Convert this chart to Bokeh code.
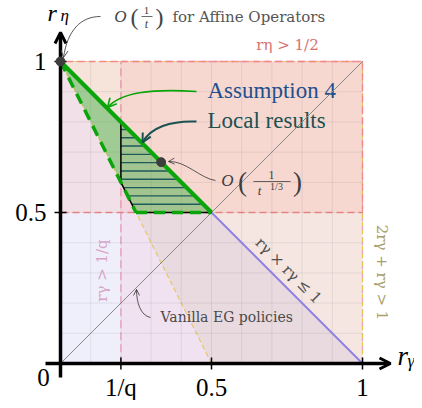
import numpy as np
from bokeh.plotting import figure
from bokeh.models import Arrow, OpenHead
from bokeh.embed import file_html
from bokeh.resources import INLINE
from bokeh.core.properties import value

# ---------------- data ----------------
q = 5
square = [(0.0, 0.0), (1.0, 0.0), (1.0, 1.0), (0.0, 1.0)]
x_ticks = [1 / q, 0.5, 1.0]
x_tick_labels = ["1/q", "0.5", "1"]
y_ticks = [0.5, 1.0]
y_tick_labels = ["0.5", "1"]
grid_values = [0.1, 0.2, 0.3, 0.4, 0.5, 0.6, 0.7, 0.8, 0.9]

# half-planes  a*r_gamma + b*r_eta >= c
eta_half = (0.0, 1.0, 0.5)      # r_eta > 1/2
gamma_q = (1.0, 0.0, 1 / q)     # r_gamma > 1/q
two_sum = (2.0, 1.0, 1.0)       # 2 r_gamma + r_eta > 1
sum_le = (-1.0, -1.0, -1.0)     # r_eta + r_gamma <= 1

vanilla_x = [0.0, 1.0]          # r_eta = r_gamma
vanilla_y = [0.0, 1.0]
rate_x = [0.0, 1 / 3]           # O(1/t) and O(1/t^{1/3})
rate_y = [1.0, 2 / 3]

# ---------------- helpers ----------------
EPS = 1e-9


def clip(poly, con):
    a, b, c = con
    out = []
    n = len(poly)
    for i in range(n):
        P, Q = poly[i], poly[(i + 1) % n]
        fp = a * P[0] + b * P[1] - c
        fq = a * Q[0] + b * Q[1] - c
        if fp >= -EPS:
            out.append(P)
        if (fp >= -EPS) != (fq >= -EPS):
            t = fp / (fp - fq)
            out.append((P[0] + t * (Q[0] - P[0]), P[1] + t * (Q[1] - P[1])))
    res = []
    for pt in out:
        if not res or abs(pt[0] - res[-1][0]) > EPS or abs(pt[1] - res[-1][1]) > EPS:
            res.append(pt)
    if len(res) > 1 and abs(res[0][0] - res[-1][0]) < EPS and abs(res[0][1] - res[-1][1]) < EPS:
        res.pop()
    return res


def region(*cons):
    poly = list(square)
    for c in cons:
        poly = clip(poly, c)
    return poly


def edges_on(poly, con):
    a, b, c = con
    segs = []
    n = len(poly)
    for i in range(n):
        P, Q = poly[i], poly[(i + 1) % n]
        if abs(a * P[0] + b * P[1] - c) < 1e-7 and abs(a * Q[0] + b * Q[1] - c) < 1e-7:
            segs.append(([P[0], Q[0]], [P[1], Q[1]]))
    return segs


def xs_ys(poly):
    return [p[0] for p in poly], [p[1] for p in poly]


def hline_span(poly, y):
    xs = []
    n = len(poly)
    for i in range(n):
        P, Q = poly[i], poly[(i + 1) % n]
        if (P[1] - y) * (Q[1] - y) <= 0 and abs(P[1] - Q[1]) > EPS:
            t = (y - P[1]) / (Q[1] - P[1])
            xs.append(P[0] + t * (Q[0] - P[0]))
    return (min(xs), max(xs)) if xs else None


# picture-pixel placement for annotations
S, OX, OY = 302.0, 60.0, 363.0


def at(X, Y):
    return (X - OX) / S, (OY - Y) / S


W, H = 414, 400
p = figure(width=W, height=H,
           x_range=((0 - OX) / S, (W - OX) / S),
           y_range=((OY - H) / S, OY / S),
           output_backend="svg", toolbar_location=None,
           x_axis_type=None, y_axis_type=None, min_border=0)
p.outline_line_color = None
p.background_fill_color = "white"
p.border_fill_color = "white"

SERIF = value("Liberation Serif")
DSERIF = value("DejaVu Serif")


def txt(X, Y, s, size, color, font=SERIF, align="center", angle=0.0, style="normal"):
    x, y = at(X, Y)
    p.text(x=[x], y=[y], text=[s], text_font=font, text_font_size=f"{size}px",
           text_color=color, text_align=align, text_baseline="middle",
           angle=angle, text_font_style=style)


# ---------------- shaded constraint regions ----------------
B = region(sum_le)
bx, by = xs_ys(B)
p.patch(bx, by, fill_color="#6464e6", fill_alpha=0.10, line_color=None)

P_ = region(gamma_q)
px_, py_ = xs_ys(P_)
p.patch(px_, py_, fill_color="#ff99b3", fill_alpha=0.15,
        line_color="#f09cc6", line_width=1.3, line_dash="8 4")

Y_ = region(two_sum)
yx, yy = xs_ys(Y_)
p.patch(yx, yy, fill_color="#beae80", fill_alpha=0.15,
        line_color="#e2c75e", line_width=1.1, line_dash="5 3")

R_ = region(eta_half)
rx, ry = xs_ys(R_)
p.patch(rx, ry, fill_color="#ff9070", fill_alpha=0.15,
        line_color="#f28a8a", line_width=1.3, line_dash="7 4")

# grid
gx0 = grid_values + [0.0] * len(grid_values)
gy0 = [0.0] * len(grid_values) + grid_values
gx1 = grid_values + [1.0] * len(grid_values)
gy1 = [1.0] * len(grid_values) + grid_values
p.segment(x0=gx0, y0=gy0, x1=gx1, y1=gy1, line_color="black", line_alpha=0.07, line_width=1)

# ---------------- texts under lines ----------------
txt(207, 90, "Assumption 4", 23, "#1f4f8c", align="left")
txt(207, 120, "Local results", 23, "#1b5150", align="left")

# r_eta + r_gamma <= 1 boundary (blue)
for sx, sy in edges_on(B, (1.0, 1.0, 1.0)):
    p.line(sx, sy, line_color="#8f82e3", line_width=2)

# vanilla EG diagonal
p.line(vanilla_x, vanilla_y, line_color="#888888", line_width=1)

# ---------------- Assumption 4 & local results ----------------
G = region(two_sum, sum_le, eta_half)
gxs, gys = xs_ys(G)
p.patch(gxs, gys, fill_color="#14b414", fill_alpha=0.34, line_color=None)

Hh = clip(G, gamma_q)
hxs, hys = xs_ys(Hh)
ymin, ymax = min(hys), max(hys)
step = 0.0275
hx0, hx1, hy = [], [], []
for yv in np.arange(ymin + step, ymax, step):
    sp = hline_span(Hh, yv)
    if sp:
        hx0.append(sp[0]); hx1.append(sp[1]); hy.append(yv)
p.segment(x0=hx0, y0=hy, x1=hx1, y1=hy, line_color="#1d5a5a", line_width=1.4)
p.patch(hxs, hys, fill_color=None, line_color="black", line_width=1.5)

for sx, sy in edges_on(G, (1.0, 1.0, 1.0)):
    p.line(sx, sy, line_color="#0aa50a", line_width=4)
dash_x, dash_y = [], []
for con in (two_sum, eta_half):
    for sx, sy in edges_on(G, con):
        dash_x.append(sx); dash_y.append(sy)
p.multi_line(dash_x, dash_y, line_color="#0aa50a", line_width=3.5, line_dash="11 7")

# ---------------- axes ----------------
ax0, _ = at(45, 0)
_, ay0 = at(0, 377)
xtip, _ = at(390, 0)
_, ytip = at(0, 32)
p.segment(x0=[ax0, 0], y0=[0, ay0], x1=[xtip - 0.01, 0], y1=[0, ytip - 0.01],
          line_color="black", line_width=3.5)
tk = 6 / S
p.segment(x0=x_ticks, y0=[-tk] * len(x_ticks), x1=x_ticks, y1=[tk] * len(x_ticks),
          line_color="black", line_width=1.5)
p.segment(x0=[-tk] * len(y_ticks), y0=y_ticks, x1=[tk] * len(y_ticks), y1=y_ticks,
          line_color="black", line_width=1.5)
for (xs0, ys0, xe, ye) in [(xtip - 0.02, 0, xtip, 0), (0, ytip - 0.02, 0, ytip)]:
    p.add_layout(Arrow(end=OpenHead(size=11, line_width=3, line_color="black"),
                       x_start=xs0, y_start=ys0, x_end=xe, y_end=ye,
                       line_color="black", line_width=3.5))

# tick labels
p.text(x=x_ticks, y=[(OY - 387) / S] * len(x_ticks), text=x_tick_labels,
       text_font=SERIF, text_font_size="25px", text_color="black",
       text_align="center", text_baseline="middle")
p.text(x=[-14 / S] * len(y_ticks), y=y_ticks, text=y_tick_labels,
       text_font=SERIF, text_font_size="25px", text_color="black",
       text_align="right", text_baseline="middle")
txt(43, 377, "0", 25, "black")

# axis names
txt(47, 12, "r", 24, "black", align="left", style="italic")
txt(60, 15, "η", 17, "black", align="left", style="italic")
txt(397, 355, "r", 27, "black", align="left", style="italic")
txt(407, 360, "γ", 18, "black", align="left", style="italic")

# rate points
p.scatter(rate_x, rate_y, size=9, color="#3d3d3d")

# ---------------- labels ----------------
txt(287, 44, "rη > 1/2", 15, "#d47272", font=DSERIF)
txt(101, 270, "rγ > 1/q", 15, "#d7a3c6", font=DSERIF, angle=np.pi / 2)
txt(381, 272, "2rγ + rγ > 1", 15, "#a9a16e", font=DSERIF, angle=-np.pi / 2)
txt(288, 270, "rγ × rγ ≤ 1", 15, "#505050", font=DSERIF, angle=-np.pi / 4)
txt(160, 316, "Vanilla EG policies", 14, "#4a4a4a", font=DSERIF, align="left")

# O(1/t) for Affine Operators
txt(120, 16, "O", 17, "#444444", style="italic")
txt(134, 16, "(", 24, "#444444")
txt(146, 10, "1", 11, "#444444")
x0f, yf = at(141, 16)
x1f, _ = at(152, 16)
p.line([x0f, x1f], [yf, yf], line_color="#444444", line_width=0.8)
txt(146, 23, "t", 12, "#444444", style="italic")
txt(159, 16, ")", 24, "#444444")
txt(172, 16, "for Affine Operators", 15, "#555555", font=DSERIF, align="left")

# O(1/t^{1/3})
txt(227, 180, "O", 17, "#3d3d3d", style="italic")
txt(242, 181, "(", 27, "#3d3d3d")
txt(271, 174, "1", 12, "#3d3d3d")
x0f, yf = at(253, 181)
x1f, _ = at(290, 181)
p.line([x0f, x1f], [yf, yf], line_color="#3d3d3d", line_width=0.8)
txt(259, 190, "t", 13, "#3d3d3d", style="italic")
txt(276, 186, "1/3", 10, "#3d3d3d")
txt(297, 181, ")", 27, "#3d3d3d")

# ---------------- curved arrows ----------------
arrows = [
    # start, c0, c1, end, color, width, head
    ((100, 16), (80, 16), (67, 30), (63, 57), "#444444", 0.9, 7),
    ((196, 91), (150, 88), (120, 92), (107, 107), "#0aa50a", 1.6, 9),
    ((196, 121), (170, 120), (150, 127), (142, 142), "#1b5150", 2.0, 9),
    ((215, 180), (200, 178), (185, 160), (168, 161), "#333333", 0.8, 6),
    ((150, 317), (140, 315), (136, 302), (136, 289), "#333333", 0.8, 6),
]
for s0, c0, c1, e, col, lw, hs in arrows:
    xs0, ys0 = at(*s0)
    cx0, cy0 = at(*c0)
    cx1, cy1 = at(*c1)
    xe, ye = at(*e)
    p.bezier(x0=[xs0], y0=[ys0], x1=[xe], y1=[ye], cx0=[cx0], cy0=[cy0],
             cx1=[cx1], cy1=[cy1], line_color=col, line_width=lw)
    dx, dy = xe - cx1, ye - cy1
    nrm = (dx * dx + dy * dy) ** 0.5
    p.add_layout(Arrow(end=OpenHead(size=hs, line_width=lw, line_color=col),
                       x_start=xe - dx / nrm * 0.003, y_start=ye - dy / nrm * 0.003,
                       x_end=xe, y_end=ye, line_color=col, line_width=lw))

open("out.html", "w").write(file_html(p, INLINE))
